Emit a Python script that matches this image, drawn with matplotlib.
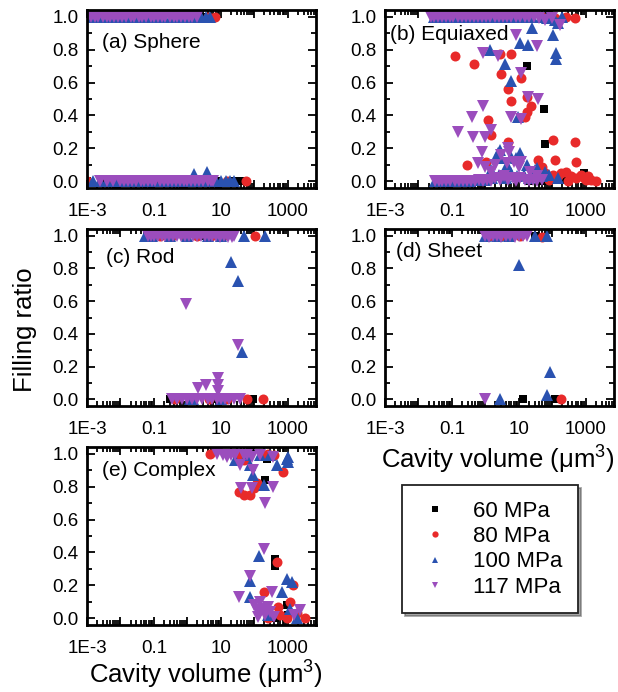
import numpy as np
import matplotlib
matplotlib.use('Agg')
import matplotlib.pyplot as plt
from matplotlib.ticker import LogLocator, NullFormatter, FuncFormatter, MultipleLocator, FormatStrFormatter
from matplotlib.lines import Line2D

plt.rcParams['font.family'] = ['Liberation Sans', 'DejaVu Sans']
plt.rcParams['mathtext.fontset'] = 'custom'
plt.rcParams['mathtext.rm'] = 'Liberation Sans'
plt.rcParams['mathtext.it'] = 'Liberation Sans'

# pressures and their marker styles
pressures = ['60 MPa', '80 MPa', '100 MPa', '117 MPa']
colors = ['#000000', '#e82a2a', '#2a52b0', '#9b4dbd']
markers = ['s', 'o', '^', 'v']
msizes = [6, 7.2, 8.3, 8.3]

# (a) Sphere  -- (cavity volume um^3, filling ratio)
a_60 = [(0.0012, 1.0), (0.004, 1.0), (0.02, 1.0), (0.1, 1.0), (0.5, 1.0), (2.5, 1.0), (4.5, 0.99),
        (0.001, 0.0), (0.003, 0.0), (0.01, 0.0), (0.04, 0.0), (0.15, 0.0), (0.6, 0.0), (2, 0.0),
        (8, 0.0), (20, 0.0), (35, 0.0), (48, 0.0)]
a_80 = [(0.001, 1.0), (0.003, 1.0), (0.015, 1.0), (0.08, 1.0), (0.4, 1.0), (1.8, 1.0), (4, 1.0), (6.8, 1.0),
        (0.001, 0.0), (0.006, 0.0), (0.03, 0.0), (0.2, 0.0), (1, 0.0), (5, 0.0), (15, 0.0), (58, 0.0)]
a_100 = [(0.001, 1.0), (0.0018, 1.0), (0.003, 1.0), (0.005, 1.0), (0.009, 1.0), (0.015, 1.0), (0.025, 1.0),
         (0.04, 1.0), (0.07, 1.0), (0.12, 1.0), (0.2, 1.0), (0.35, 1.0), (0.6, 1.0), (1, 1.0), (1.6, 1.0),
         (2.6, 1.0), (3.5, 1.0), (4.8, 1.0),
         (0.0015, 0.0), (0.0025, 0.0), (0.004, 0.0), (0.007, 0.0), (0.012, 0.0), (0.02, 0.0), (0.035, 0.0),
         (0.06, 0.0), (0.1, 0.0), (0.17, 0.0), (0.3, 0.0), (0.5, 0.0), (0.8, 0.0), (1.3, 0.0), (2.2, 0.0),
         (3, 0.0), (5, 0.0), (7, 0.0), (10, 0.0), (14, 0.0), (19, 0.0), (24, 0.0), (1.6, 0.044), (3.8, 0.055)]
a_117 = [(0.001, 1.0), (0.0013, 1.0), (0.0017, 1.0), (0.0022, 1.0), (0.003, 1.0), (0.004, 1.0), (0.005, 1.0),
         (0.0065, 1.0), (0.0085, 1.0), (0.011, 1.0), (0.015, 1.0), (0.02, 1.0), (0.026, 1.0), (0.035, 1.0),
         (0.045, 1.0), (0.06, 1.0), (0.08, 1.0), (0.1, 1.0), (0.13, 1.0), (0.17, 1.0), (0.22, 1.0), (0.3, 1.0),
         (0.4, 1.0), (0.5, 1.0), (0.65, 1.0), (0.85, 1.0), (1.1, 1.0), (1.4, 1.0), (1.9, 1.0),
         (0.0025, 0.0), (0.004, 0.0), (0.006, 0.0), (0.01, 0.0), (0.013, 0.0), (0.017, 0.0), (0.022, 0.0),
         (0.03, 0.0), (0.04, 0.0), (0.05, 0.0), (0.065, 0.0), (0.085, 0.0), (0.11, 0.0), (0.15, 0.0), (0.2, 0.0),
         (0.26, 0.0), (0.35, 0.0), (0.45, 0.0), (0.6, 0.0), (0.8, 0.0), (1.0, 0.0), (1.3, 0.0), (1.7, 0.0),
         (2.2, 0.0), (3, 0.0), (4, 0.0), (5, 0.0), (6, 0.0)]

# (b) Equiaxed
b_60 = [(0.5, 1.0), (5, 1.0), (17, 0.70), (58, 0.44), (60, 0.23), (871, 0.05), (48, 0.0), (200, 0.01), (20, 0.0)]
b_80 = [(0.03, 1.0), (0.06, 1.0), (0.15, 1.0), (0.4, 1.0), (1, 1.0), (3, 1.0), (8, 1.0), (20, 1.0), (50, 1.0),
        (120, 0.99), (250, 1.0), (470, 0.99),
        (0.123, 0.76), (0.47, 0.71), (2.7, 0.77), (5.8, 0.77), (3.0, 0.65), (12, 0.63), (4.8, 0.56), (6.0, 0.49),
        (17, 0.51), (23, 0.46), (17, 0.42), (15, 0.39), (1.21, 0.37), (1.52, 0.28), (4.6, 0.24), (105, 0.25),
        (468, 0.24), (38, 0.13), (117, 0.13), (0.275, 0.10), (1.07, 0.12), (525, 0.12), (48, 0.09),
        (60, 0.05), (105, 0.04), (148, 0.03), (186, 0.05), (372, 0.03), (525, 0.02), (741, 0.04), (871, 0.02),
        (1479, 0.01), (2089, 0.0), (1000, 0.01), (300, 0.0), (80, 0.01), (250, 0.06), (1200, 0.03)]
b_100 = [(0.03, 1.0), (0.05, 1.0), (0.09, 1.0), (0.15, 1.0), (0.25, 1.0), (0.45, 1.0), (0.8, 1.0), (1.4, 1.0),
         (2.5, 1.0), (4.5, 1.0), (8, 1.0), (14, 1.0), (25, 1.0), (45, 1.0), (68, 0.99), (117, 0.98), (148, 0.96),
         (200, 1.0),
         (24, 0.93), (105, 0.89), (10.7, 0.84), (19, 0.83), (132, 0.78), (132, 0.74), (1.35, 0.80), (3.8, 0.71),
         (5.8, 0.61), (9.5, 0.39), (2.4, 0.17), (3.0, 0.14), (6.0, 0.15), (10.7, 0.17), (2.7, 0.19), (8.5, 0.14),
         (34, 0.08), (4.3, 0.10), (60, 0.06), (1.5, 0.07), (18, 0.10),
         (0.031, 0.0), (0.05, 0.0), (0.08, 0.0), (0.13, 0.0), (0.2, 0.0), (0.35, 0.0), (0.6, 0.01), (1, 0.01),
         (1.6, 0.02), (2.5, 0.04), (4, 0.02), (6, 0.05), (9, 0.03), (14, 0.04), (20, 0.02), (30, 0.07),
         (50, 0.03), (80, 0.04), (150, 0.02)]
b_117 = [(0.0245, 1.0), (0.03, 1.0), (0.038, 1.0), (0.05, 1.0), (0.065, 1.0), (0.085, 1.0), (0.11, 1.0),
         (0.15, 1.0), (0.2, 1.0), (0.26, 1.0), (0.35, 1.0), (0.45, 1.0), (0.6, 1.0), (0.8, 1.0), (1.05, 1.0),
         (1.4, 1.0), (1.9, 1.0), (2.5, 1.0), (3.3, 1.0), (4.4, 1.0), (6, 1.0), (8, 1.0), (11, 1.0), (15, 1.0),
         (20, 1.0), (28, 1.0), (40, 0.99), (60, 0.98), (100, 0.99), (166, 0.95),
         (8.5, 0.89), (34, 0.82), (0.87, 0.78), (2.4, 0.76), (12, 0.66), (19, 0.51), (38, 0.50), (0.87, 0.46),
         (0.41, 0.39), (6.0, 0.39), (12, 0.38), (0.155, 0.30), (0.44, 0.27), (0.98, 0.27), (1.52, 0.31),
         (0.77, 0.18), (4.8, 0.20), (4.3, 0.11), (0.61, 0.11), (0.98, 0.09),
         (3, 0.16), (5, 0.18), (7, 0.12), (10, 0.09), (12, 0.12), (2, 0.10), (1.5, 0.06), (22, 0.06), (35, 0.03),
         (0.031, 0.0), (0.04, 0.0), (0.052, 0.0), (0.068, 0.0), (0.09, 0.0), (0.12, 0.0), (0.16, 0.0),
         (0.21, 0.0), (0.28, 0.0), (0.37, 0.0), (0.5, 0.0), (0.65, 0.01), (0.85, 0.0), (1.1, 0.01), (1.5, 0.0),
         (2, 0.02), (2.7, 0.01), (3.6, 0.03), (4.8, 0.01), (6.5, 0.02), (8.5, 0.0), (11, 0.02), (15, 0.01),
         (20, 0.0), (27, 0.01), (36, 0.0), (48, 0.01)]

# (c) Rod
c_60 = [(0.2, 1.0), (3, 1.0), (0.31, 0.0), (6, 0.0), (93, 0.0)]
c_80 = [(0.07, 1.0), (0.15, 1.0), (0.35, 1.0), (0.8, 1.0), (2, 1.0), (5, 1.0), (12, 1.0), (105, 1.0),
        (0.44, 0.0), (1.5, 0.0), (4.3, 0.0), (15, 0.0), (60, 0.0), (178, 0.0)]
c_100 = [(0.055, 1.0), (0.09, 1.0), (0.3, 1.0), (1, 1.0), (4, 1.0), (10, 1.0), (48, 1.0), (210, 1.0),
         (20, 0.84), (32, 0.72), (44, 0.29), (1.2, 0.0), (1.5, 0.0), (10, 0.0)]
c_117 = [(0.065, 1.0), (0.08, 1.0), (0.1, 1.0), (0.13, 1.0), (0.17, 1.0), (0.22, 1.0), (0.29, 1.0), (0.38, 1.0),
         (0.5, 1.0), (0.65, 1.0), (0.85, 1.0), (1.1, 1.0), (1.45, 1.0), (1.9, 1.0), (2.5, 1.0), (3.3, 1.0),
         (4.3, 1.0), (5.6, 1.0), (7.3, 1.0), (9.5, 0.99), (12.5, 1.0), (16, 0.99), (21, 0.99), (25, 1.0),
         (0.93, 0.58), (32, 0.33), (2.1, 0.07), (3.6, 0.09), (8.5, 0.13), (8.5, 0.09), (8.5, 0.05),
         (0.35, 0.0), (0.5, 0.0), (0.7, 0.0), (1.0, 0.0), (1.4, 0.0), (2, 0.0), (2.8, 0.0), (4, 0.0), (5.5, 0.0),
         (7.5, 0.0), (10, 0.0), (13, 0.0), (18, 0.0), (25, 0.0), (38, 0.0)]

# (d) Sheet
d_60 = [(30, 1.0), (13.5, 0.0), (117, 0.0)]
d_80 = [(1.3, 1.0), (3, 1.0), (6, 1.0), (11, 1.0), (48, 0.99), (186, 0.0)]
d_100 = [(1.0, 1.0), (2.2, 1.0), (5, 1.0), (30, 1.0), (68, 1.0), (10.2, 0.82), (85, 0.165), (68, 0.025),
         (2.7, 0.0)]
d_117 = [(0.98, 1.0), (1.3, 0.99), (1.7, 1.0), (2.3, 1.0), (3, 0.99), (4, 1.0), (5.5, 1.0), (7.5, 0.99),
         (10, 1.0), (13, 1.0), (17, 1.0), (0.98, 0.0)]

# (e) Complex
e_60 = [(234, 0.97), (209, 0.84), (417, 0.36), (417, 0.32), (933, 0.08), (417, 0.0), (1000, 0.02)]
e_80 = [(4.8, 1.0), (30, 0.99), (48, 0.96), (200, 0.99), (263, 1.0), (400, 0.99), (708, 0.89), (117, 0.82),
        (100, 0.79), (34, 0.77), (48, 0.75), (72, 0.75),
        (468, 0.34), (1479, 0.20), (200, 0.16), (1175, 0.10), (525, 0.07), (1862, 0.03), (3311, 0.005),
        (933, 0.0), (600, 0.02), (250, 0.0)]
e_100 = [(27, 0.96), (60, 0.99), (76, 0.93), (89, 0.87), (150, 0.99), (300, 0.99), (468, 0.93), (933, 0.97),
         (1000, 0.98), (1047, 0.95), (200, 0.81), (138, 0.38), (76, 0.23), (76, 0.13), (660, 0.16),
         (933, 0.24), (1318, 0.22), (1175, 0.06), (1862, 0.0), (250, 0.02)]
e_117 = [(7.6, 1.0), (12, 0.99), (15, 0.98), (20, 0.99), (27, 0.99), (48, 0.99), (60, 0.99), (85, 0.98),
         (150, 0.99), (372, 0.98), (38, 0.93), (89, 0.90), (40, 0.79), (85, 0.79), (372, 0.80), (209, 0.70),
         (200, 0.42), (76, 0.26), (34, 0.13), (331, 0.16), (148, 0.10),
         (100, 0.08), (120, 0.05), (150, 0.03), (180, 0.06), (210, 0.02), (250, 0.07), (300, 0.04), (400, 0.01),
         (130, 0.01), (2344, 0.05), (1500, 0.02)]

panels = [
    ('(a) Sphere', [a_60, a_80, a_100, a_117]),
    ('(b) Equiaxed', [b_60, b_80, b_100, b_117]),
    ('(c) Rod', [c_60, c_80, c_100, c_117]),
    ('(d) Sheet', [d_60, d_80, d_100, d_117]),
    ('(e) Complex', [e_60, e_80, e_100, e_117]),
]

W, H = 618, 692
# axes boxes in pixels: left, top, right, bottom
boxes = [(87, 10, 316, 188), (385, 10, 614, 188),
         (87, 229, 316, 406), (385, 229, 614, 406),
         (87, 447, 316, 625)]
label_pos = [(0.066, 0.82), (0.02, 0.86), (0.083, 0.84), (0.048, 0.875), (0.066, 0.87)]


def xfmt(v, pos):
    e = int(round(np.log10(v)))
    return {-3: '1E-3', -1: '0.1', 1: '10', 3: '1000'}.get(e, '')


fig = plt.figure(figsize=(W / 100, H / 100), dpi=100)

for (title, series), (l, t, r, b), (tx, ty) in zip(panels, boxes, label_pos):
    ax = fig.add_axes([l / W, 1 - b / H, (r - l) / W, (b - t) / H])
    for pts, c, m, ms in zip(series, colors, markers, msizes):
        xs = [p[0] for p in pts]
        ys = [p[1] for p in pts]
        ax.plot(xs, ys, linestyle='none', marker=m, color=c, markersize=ms, markeredgewidth=0)
    ax.set_xscale('log')
    ax.set_xlim(1e-3, 7e3)
    ax.set_ylim(-0.04, 1.04)
    ax.xaxis.set_major_locator(LogLocator(base=10, numticks=20))
    ax.xaxis.set_minor_locator(LogLocator(base=10, subs=np.arange(2, 10), numticks=20))
    ax.xaxis.set_major_formatter(FuncFormatter(xfmt))
    ax.xaxis.set_minor_formatter(NullFormatter())
    ax.yaxis.set_major_locator(MultipleLocator(0.2))
    ax.yaxis.set_minor_locator(MultipleLocator(0.1))
    ax.yaxis.set_major_formatter(FormatStrFormatter('%.1f'))
    ax.tick_params(which='both', direction='in', top=True, right=True, labelsize=13.5, width=1.3)
    ax.tick_params(which='major', length=6, pad=6)
    ax.tick_params(axis='x', which='major', pad=11)
    ax.tick_params(which='minor', length=3.5)
    for s in ax.spines.values():
        s.set_linewidth(2)
    ax.text(tx, ty, title, transform=ax.transAxes, fontsize=15, va='center', ha='left')

xlabel = 'Cavity volume (\u03bcm$^{3}$)'
fig.text(25 / W, 1 - 330 / H, 'Filling ratio', rotation=90, fontsize=18.5, ha='center', va='center')
fig.text(498 / W, 1 - 469 / H, xlabel, fontsize=18.5, ha='center', va='baseline')
fig.text(206 / W, 1 - 684 / H, xlabel, fontsize=18.5, ha='center', va='baseline')

handles = [Line2D([], [], linestyle='none', marker=m, color=c, markersize=4.5, markeredgewidth=0)
           for c, m in zip(colors, markers)]
leg = fig.legend(handles, pressures, loc='upper left', bbox_to_anchor=(402 / W, 1 - 485 / H),
                 borderaxespad=0, fontsize=16, frameon=True, fancybox=False, shadow=True,
                 edgecolor='#222222', borderpad=0.7, handlelength=1.6, handletextpad=0.9,
                 labelspacing=0.2)
leg.get_frame().set_linewidth(1.3)

fig.savefig('out.png', dpi=100)
